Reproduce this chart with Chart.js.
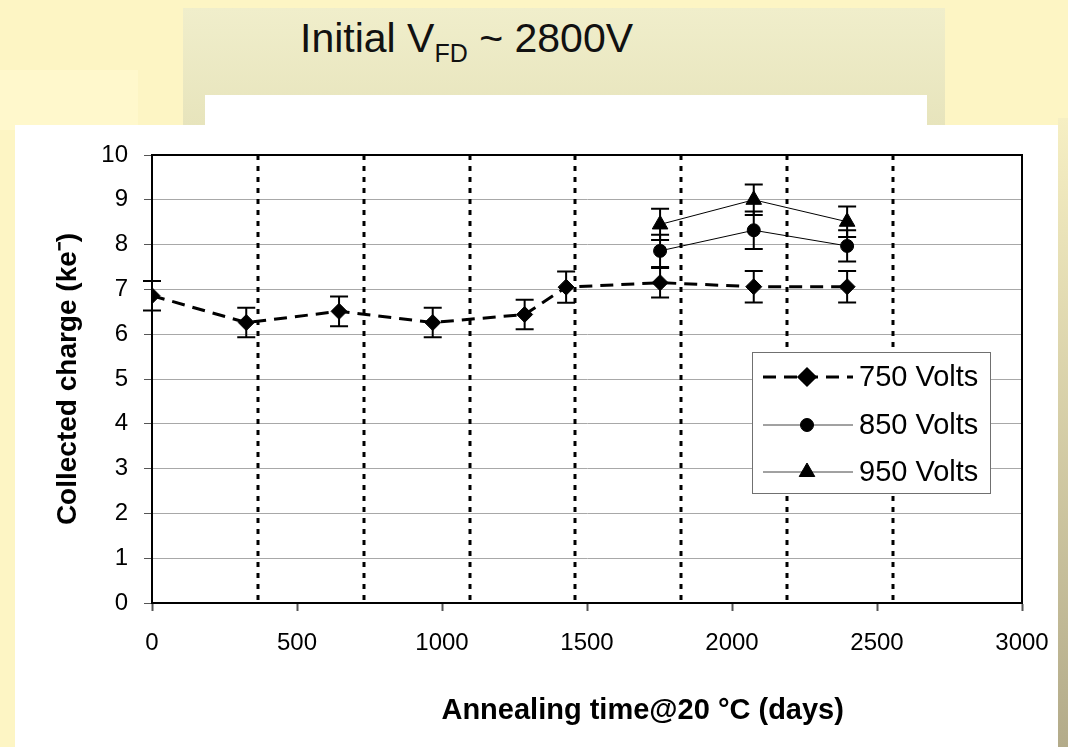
<!DOCTYPE html>
<html>
<head>
<meta charset="utf-8">
<script src="https://cdn.jsdelivr.net/npm/chart.js@4.4.0/dist/chart.umd.min.js"></script>
<style>
  html, body { margin: 0; padding: 0; }
  body {
    width: 1068px; height: 747px; overflow: hidden; position: relative;
    background: #fdf5c4;
    font-family: "Liberation Sans", Arial, sans-serif;
  }
  .panel { position: absolute; left: 183px; top: 8px; width: 762px; height: 117px;
           background: linear-gradient(#f0eecb, #e7e4bc); }
  .leftbox { position: absolute; left: 0; top: 70px; width: 138px; height: 60px; background: #fff8cc; }
  .whitebox { position: absolute; left: 205px; top: 95px; width: 722px; height: 30px; background: #fff; }
  .strip { position: absolute; left: 1058px; top: 118px; width: 10px; height: 629px;
           background: linear-gradient(#f6efc3, #b3ab8a); }
  .title { position: absolute; left: 300px; top: 18px; font-size: 41px; color: #111;
           font-family: "Liberation Sans", sans-serif; line-height: 1; white-space: nowrap; }
  .title sub { font-size: 25px; vertical-align: -10px; }
  .chartbox { position: absolute; left: 15px; top: 125px; width: 1043px; height: 622px; background: #fff; }
</style>
</head>
<body>
<div class="panel"></div>
<div class="leftbox"></div>
<div class="whitebox"></div>
<div class="strip"></div>
<div class="title">Initial V<sub>FD</sub> ~ 2800V</div>
<div class="chartbox"><canvas id="c" width="1043" height="622"></canvas></div>
<script>
'use strict';

// Annealing time (days) and collected charge (ke-)
const days750 = [0, 325, 645, 968, 1285, 1428, 1752, 2075, 2397];
const q750    = [6.86, 6.26, 6.51, 6.26, 6.44, 7.05, 7.15, 7.06, 7.06];
const err750  = [0.33, 0.33, 0.33, 0.33, 0.33, 0.35, 0.33, 0.35, 0.35];

const daysHigh = [1752, 2075, 2397];
const q850     = [7.86, 8.32, 7.97];
const err850   = [0.36, 0.42, 0.35];
const q950     = [8.45, 9.00, 8.51];
const err950   = [0.35, 0.34, 0.34];

// yearly markers (dotted verticals)
const yearLines = [365, 730, 1095, 1460, 1825, 2190, 2555];

const xTicks = [0, 500, 1000, 1500, 2000, 2500, 3000];
const yTicks = [0, 1, 2, 3, 4, 5, 6, 7, 8, 9, 10];

const seriesNames = ['750 Volts', '850 Volts', '950 Volts'];
const xTitle = 'Annealing time@20 °C (days)';
const yTitle = 'Collected charge (ke⁻)';

const toPts = (xs, ys) => xs.map((x, i) => ({ x, y: ys[i] }));
const FONT = '"Liberation Sans", Arial, sans-serif';

// error bars, yearly dotted lines, frame, x title and legend
const extrasPlugin = {
    id: 'extras',
    beforeDatasetsDraw(chart) {
        const { ctx, chartArea: a, scales: { x, y } } = chart;
        ctx.save();
        ctx.strokeStyle = '#000';
        ctx.lineWidth = 3;
        ctx.setLineDash([5, 6]);
        yearLines.forEach(d => {
            const px = Math.round(x.getPixelForValue(d));
            ctx.beginPath();
            ctx.moveTo(px, a.top);
            ctx.lineTo(px, a.bottom);
            ctx.stroke();
        });
        ctx.setLineDash([]);
        ctx.lineWidth = 2;
        ctx.strokeRect(a.left, a.top, a.right - a.left, a.bottom - a.top);
        chart.data.datasets.forEach(ds => {
            ds.data.forEach((p, i) => {
                const e = ds.errors[i];
                const px = x.getPixelForValue(p.x);
                const y1 = y.getPixelForValue(p.y + e);
                const y2 = y.getPixelForValue(p.y - e);
                ctx.beginPath();
                ctx.moveTo(px, y1); ctx.lineTo(px, y2);
                ctx.moveTo(px - 9, y1); ctx.lineTo(px + 9, y1);
                ctx.moveTo(px - 9, y2); ctx.lineTo(px + 9, y2);
                ctx.stroke();
            });
        });
        ctx.restore();
    },
    afterDraw(chart) {
        const { ctx, chartArea: a } = chart;
        ctx.save();
        // x axis title, set a bit right of centre like the original slide
        ctx.font = 'bold 29px ' + FONT;
        ctx.fillStyle = '#000';
        ctx.textAlign = 'center';
        ctx.textBaseline = 'middle';
        ctx.fillText(xTitle, a.left + (a.right - a.left) * 0.564, 586);

        // legend box inside plot
        const bx = 737, by = 227, bw = 238, bh = 141;
        ctx.textAlign = 'left';
        ctx.fillStyle = '#fff';
        ctx.fillRect(bx, by, bw, bh);
        ctx.strokeStyle = '#707070';
        ctx.lineWidth = 1;
        ctx.strokeRect(bx + 0.5, by + 0.5, bw, bh);
        const rows = [252, 300, 347];
        ctx.font = '29px ' + FONT;
        chart.data.datasets.forEach((ds, i) => {
            const ry = rows[i];
            ctx.strokeStyle = ds.borderWidth > 1 ? '#000' : '#444';
            ctx.lineWidth = ds.borderWidth;
            ctx.setLineDash(ds.borderDash || []);
            ctx.beginPath();
            ctx.moveTo(bx + 11, ry);
            ctx.lineTo(bx + 101, ry);
            ctx.stroke();
            ctx.setLineDash([]);
            ctx.fillStyle = '#000';
            ctx.strokeStyle = '#000';
            Chart.helpers.drawPoint(ctx, {
                pointStyle: ds.pointStyle, radius: ds.pointRadius, rotation: 0, borderWidth: 1
            }, bx + 55, ry);
            ctx.fillText(ds.label, bx + 107, ry + 1);
        });
        ctx.restore();
    }
};

new Chart(document.getElementById('c'), {
    type: 'line',
    data: {
        datasets: [
            {
                label: seriesNames[0],
                data: toPts(days750, q750),
                errors: err750,
                borderColor: '#000', backgroundColor: '#000',
                borderWidth: 3, borderDash: [13, 8],
                pointStyle: 'rectRot', pointRadius: 8,
                pointBorderWidth: 1, tension: 0,
            },
            {
                label: seriesNames[1],
                data: toPts(daysHigh, q850),
                errors: err850,
                borderColor: '#000', backgroundColor: '#000',
                borderWidth: 1,
                pointStyle: 'circle', pointRadius: 6.5,
                pointBorderWidth: 1, tension: 0,
            },
            {
                label: seriesNames[2],
                data: toPts(daysHigh, q950),
                errors: err950,
                borderColor: '#000', backgroundColor: '#000',
                borderWidth: 1,
                pointStyle: 'triangle', pointRadius: 9,
                pointBorderWidth: 1, tension: 0,
            },
        ]
    },
    options: {
        responsive: false,
        animation: false,
        layout: { padding: { left: 0, top: 30, right: 36, bottom: 0 } },
        plugins: { legend: { display: false }, tooltip: { enabled: false } },
        scales: {
            x: {
                type: 'linear',
                min: 0, max: 3000,
                afterBuildTicks: s => { s.ticks = xTicks.map(v => ({ value: v })); },
                afterFit: s => { s.height = 144; s.paddingLeft = 0; s.paddingRight = 0; },
                ticks: {
                    color: '#000', font: { size: 24, family: FONT }, padding: 18, maxRotation: 0,
                    callback: v => String(v)
                },
                grid: { drawOnChartArea: false, drawTicks: true, tickLength: 8, tickColor: '#555', tickWidth: 2 },
                border: { color: '#000', width: 2 },
                title: { display: false }
            },
            y: {
                min: 0, max: 10,
                afterBuildTicks: s => { s.ticks = yTicks.map(v => ({ value: v })); },
                afterFit: s => { s.width = 137; s.paddingTop = 0; s.paddingBottom = 0; },
                ticks: { color: '#000', font: { size: 24, family: FONT }, padding: 16 },
                grid: { color: '#a8a8a8', lineWidth: 1, tickLength: 8, tickColor: '#555' },
                border: { color: '#000', width: 2 },
                title: {
                    display: true, text: yTitle, color: '#000',
                    font: { size: 28, weight: 'bold', family: FONT },
                    padding: { top: 36 }
                }
            }
        }
    },
    plugins: [extrasPlugin]
});
</script>
</body>
</html>
